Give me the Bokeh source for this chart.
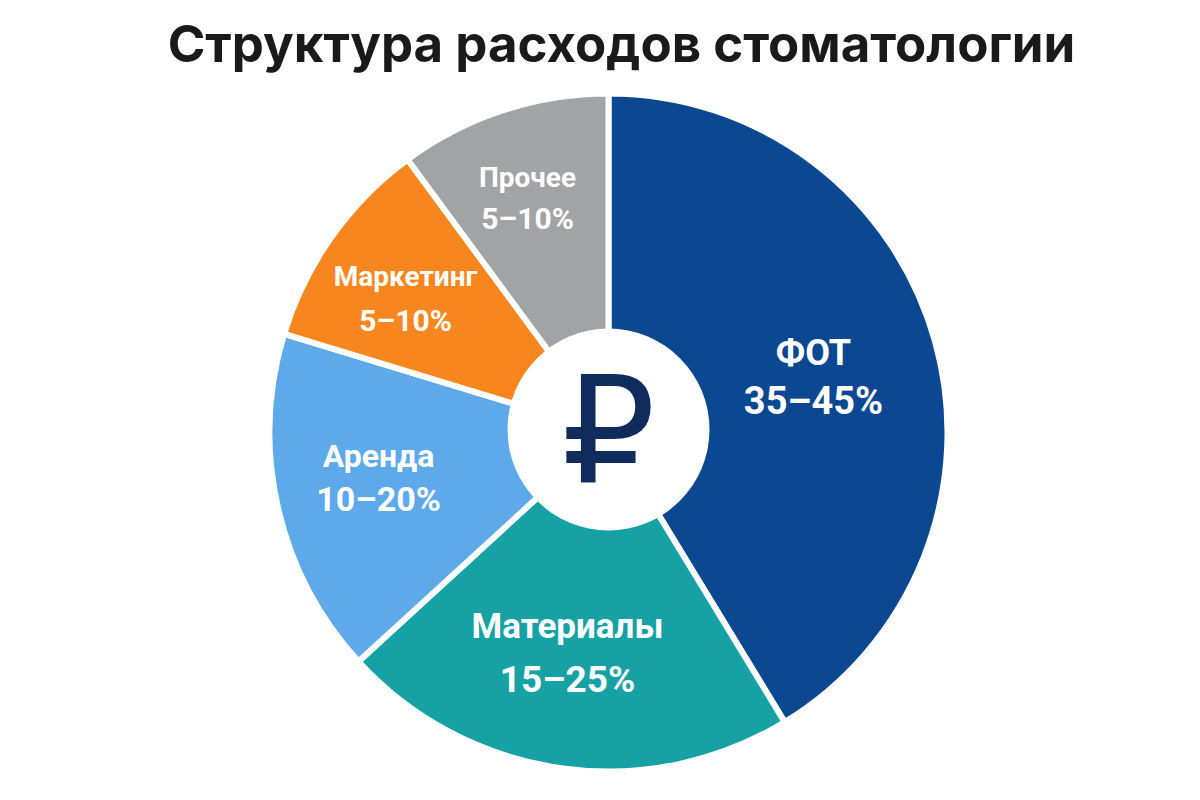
from bokeh.plotting import figure
from bokeh.models import ColumnDataSource, Range1d
from bokeh.embed import file_html
from bokeh.resources import INLINE
from bokeh.core.properties import value
import math

# ---- data ----
categories = ["ФОТ", "Материалы", "Аренда", "Маркетинг", "Прочее"]
shares = [41.3, 21.9, 16.5, 10.2, 10.1]
range_labels = ["35–45%", "15–25%", "10–20%", "5–10%", "5–10%"]
colors = ["#0C4792", "#16A2A5", "#5EA9E9", "#F7861F", "#A2A3A5"]
title_text = "Структура расходов стоматологии"
center_symbol = "₽"

# ---- layout (pixel-like coordinates, y measured up from bottom) ----
W, H = 1200, 800
cx, cy = 608, 800 - 432
R_OUT, R_IN = 339, 101

total = sum(shares)
starts, ends = [], []
a = math.pi / 2
for s in shares:
    starts.append(a)
    a -= s / total * 2 * math.pi
    ends.append(a)

src = ColumnDataSource(dict(cat=categories, start=starts, end=ends, color=colors))

p = figure(width=W, height=H, x_range=Range1d(0, W), y_range=Range1d(0, H),
           output_backend="svg", toolbar_location=None, min_border=0,
           background_fill_color="white", border_fill_color="white")
p.axis.visible = False
p.grid.visible = False
p.outline_line_color = None

p.wedge(x=cx, y=cy, radius=R_OUT, start_angle="start", end_angle="end",
        direction="clock", fill_color="color", line_color="white", line_width=6,
        source=src)
p.circle(x=[cx], y=[800 - 429], radius=R_IN, fill_color="white", line_color=None)

p.text(x=[cx], y=[800 - 430], text=[center_symbol],
       text_font=value("DejaVu Sans"),
       text_font_style="normal", text_font_size="148px", text_color="#0F2C5C",
       text_align="center", text_baseline="middle")

# label placement (pixel centers of name / range lines) and sizes
label_pos = [(813, 352, 400), (567, 626, 679), (378, 455, 498), (405, 276, 320), (527, 177, 218)]
label_size = [36, 35, 32, 28, 28]
for name, rng, (lx, ny, ry), fs in zip(categories, range_labels, label_pos, label_size):
    p.text(x=[lx], y=[800 - ny], text=[name], text_font=value("Roboto"),
           text_font_style="bold", text_font_size=f"{fs}px", text_color="white",
           text_align="center", text_baseline="middle")
    p.text(x=[lx], y=[800 - ry], text=[rng], text_font=value("Roboto"),
           text_font_style="bold", text_font_size=f"{fs + 2}px", text_color="white",
           text_align="center", text_baseline="middle")

p.text(x=[621], y=[800 - 43], text=[title_text], text_font=value("Inter"),
       text_font_style="bold", text_font_size="51px", text_color="#1A1A1A",
       text_align="center", text_baseline="middle")

open("out.html", "w").write(file_html(p, INLINE))
